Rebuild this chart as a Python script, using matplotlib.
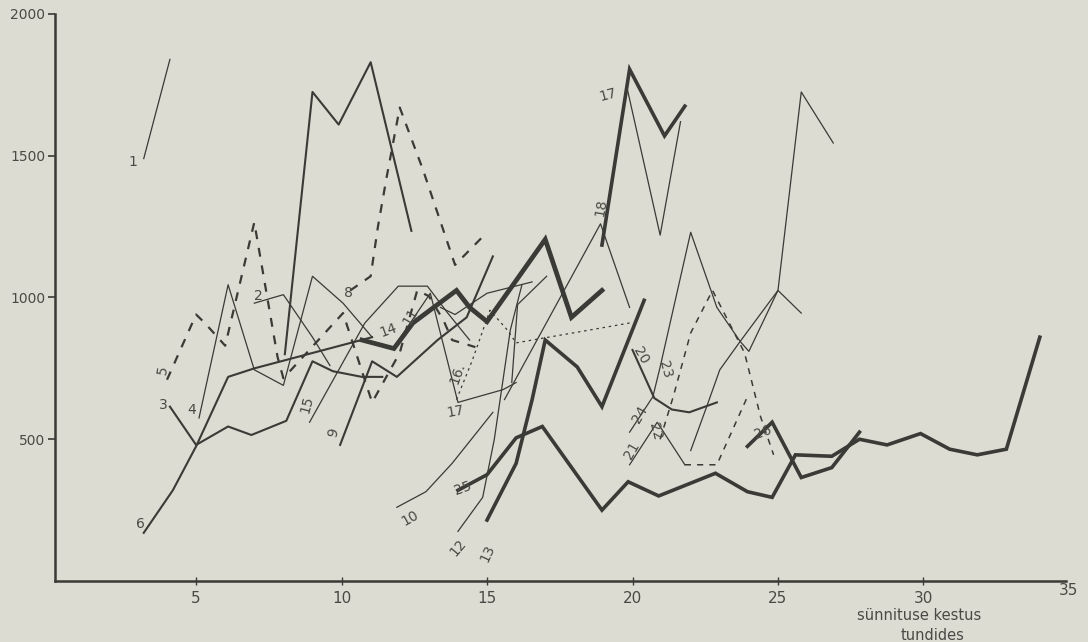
import matplotlib
matplotlib.use("Agg")
import matplotlib.pyplot as plt

# ---- data (hours, ml) ----
s1_h = [3.2, 4.1];  s1_ml = [1490, 1840]
s2_h = [7.0, 8.0, 9.0, 9.6];  s2_ml = [980, 1010, 860, 760]
s3_h = [4.1, 5.0, 6.1, 6.9, 8.1, 9.0, 9.7, 10.7, 11.4]
s3_ml = [615, 480, 545, 515, 565, 775, 740, 720, 720]
s4_h = [5.1, 6.1, 7.0, 8.0, 9.0, 10.05, 11.05]
s4_ml = [575, 1045, 745, 690, 1075, 980, 860]
s5_h = [4.0, 5.0, 5.3, 6.0, 7.0, 7.8, 8.0, 10.05, 10.7, 11.05, 12.0, 12.6, 13.0, 13.5, 13.8, 14.6]
s5_ml = [710, 940, 910, 830, 1265, 790, 715, 945, 740, 630, 805, 1025, 1005, 920, 850, 825]
s6_h = [3.2, 4.2, 5.0, 6.1, 7.0, 11.05];  s6_ml = [170, 320, 475, 720, 750, 860]
s7_h = [8.05, 9.0, 9.9, 11.0, 12.4];  s7_ml = [800, 1725, 1610, 1830, 1235]
s8_h = [10.3, 11.0, 11.25, 11.55, 12.0, 12.8, 13.9, 15.0]
s8_ml = [1025, 1075, 1250, 1425, 1670, 1450, 1115, 1230]
s9_h = [9.95, 11.05, 11.9, 13.3, 14.3, 15.2];  s9_ml = [480, 775, 720, 850, 930, 1145]
s10_h = [11.9, 12.9, 13.8, 15.2];  s10_ml = [260, 315, 415, 595]
s11_h = [11.9, 13.05, 14.0, 15.55, 16.0];  s11_ml = [840, 1015, 630, 675, 700]
s12_h = [14.0, 14.85, 15.25, 15.8, 16.2];  s12_ml = [175, 295, 500, 885, 1045]
s13_h = [15.0, 16.0, 16.55, 17.0, 18.1, 18.95, 20.4];  s13_ml = [215, 415, 640, 850, 755, 615, 990]
s14_h = [10.7, 11.8, 12.45, 13.95, 14.4, 15.0, 17.0, 17.9, 18.95]
s14_ml = [850, 820, 910, 1025, 965, 915, 1205, 930, 1025]
s15_h = [8.9, 10.8, 11.95, 12.95, 13.65, 14.4];  s15_ml = [560, 910, 1040, 1040, 945, 850]
s16_h = [13.95, 14.5, 15.1, 15.7, 16.0, 19.9];  s16_ml = [640, 780, 955, 885, 840, 910]
s17_h = [18.95, 19.9, 21.1, 21.8];  s17_ml = [1185, 1805, 1570, 1675]
s17b_h = [19.8, 20.95, 21.65];  s17b_ml = [1745, 1220, 1620]
s18_h = [15.6, 18.9, 19.9];  s18_ml = [640, 1260, 965]
s19_h = [15.85, 16.05, 17.05];  s19_ml = [700, 975, 1075]
s19b_h = [13.4, 13.9, 15.0, 16.55];  s19b_ml = [965, 940, 1015, 1055]
s20_h = [20.0, 20.75, 21.35, 21.95, 22.9];  s20_ml = [815, 645, 605, 595, 630]
s21_h = [19.9, 20.85, 21.8];  s21_ml = [410, 560, 410]
s22_h = [21.8, 22.9, 23.95];  s22_ml = [410, 410, 650]
s23_h = [20.95, 21.4, 22.0, 22.75, 23.45, 23.85, 24.4, 24.85]
s23_ml = [500, 650, 875, 1025, 885, 805, 580, 445]
s24_h = [19.9, 20.7, 20.95, 22.0, 22.9, 23.7, 24.0, 25.0, 25.8, 26.9]
s24_ml = [525, 650, 755, 1230, 965, 845, 810, 1025, 1725, 1545]
s24b_h = [22.0, 22.55, 23.0, 23.7, 25.0, 25.8];  s24b_ml = [460, 615, 745, 845, 1025, 945]
s25_h = [14.0, 15.0, 16.0, 16.9, 18.95, 19.85, 20.9, 22.85, 23.95, 24.8, 25.6, 26.85,
         27.8, 28.75, 29.9, 30.9, 31.85, 32.85, 34.0]
s25_ml = [320, 375, 505, 545, 250, 350, 300, 380, 315, 295, 445, 440,
          500, 480, 520, 465, 445, 465, 860]
s26_h = [23.95, 24.8, 25.8, 26.85, 27.8];  s26_ml = [475, 560, 365, 400, 525]

labels = ["1", "2", "3", "4", "5", "6", "8", "9", "10", "11", "12", "13", "14", "15",
          "16.", "17", "17", "18", "20", "21", "22", "23", "24", "25", "26"]
label_h = [2.84, 7.13, 3.87, 4.86, 3.87, 3.08, 10.22, 9.71, 12.35, 12.35, 14.0, 15.03, 11.6, 8.81,
           13.97, 13.93, 19.16, 18.92, 20.29, 19.98, 20.77, 21.12, 20.26, 14.18, 24.48]
label_ml = [1479, 1006, 621, 604, 745, 201, 1017, 522, 222, 935, 116, 99, 886, 621,
            734, 597, 1716, 1317, 794, 462, 526, 745, 586, 328, 526]
label_rot = [0, 0, 0, 0, 80, 0, 0, 75, 30, 60, 50, 65, 20, 75,
             70, 10, 15, 80, -60, 60, -75, -75, 60, 20, 20]

y_ticks = [500, 1000, 1500, 2000]
x_ticks = [5, 10, 15, 20, 25, 30, 35]

BG = "#dcdcd3"
INK = "#3a3a36"
TXT = "#4a4a45"

fig = plt.figure(figsize=(10.88, 6.42), dpi=100, facecolor=BG)
ax = fig.add_axes([55 / 1088, 61 / 642, (1066 - 55) / 1088, 567 / 642])
ax.set_facecolor(BG)

solid_thin = dict(color=INK, lw=0.9)
solid_med = dict(color=INK, lw=1.5)
thick = dict(color=INK, lw=2.6, solid_joinstyle="miter")
very_thick = dict(color=INK, lw=3.4, solid_joinstyle="miter")
dash_thick = dict(color=INK, lw=1.6, ls=(0, (4, 4)))
dash_thin = dict(color=INK, lw=1.1, ls=(0, (4, 4)))
dot_thin = dict(color=INK, lw=0.9, ls=(0, (2, 3)))

series = [
    (s1_h, s1_ml, solid_thin), (s2_h, s2_ml, solid_thin), (s3_h, s3_ml, solid_med),
    (s4_h, s4_ml, solid_thin), (s5_h, s5_ml, dash_thick), (s6_h, s6_ml, solid_med),
    (s7_h, s7_ml, solid_med), (s8_h, s8_ml, dash_thick), (s9_h, s9_ml, solid_med),
    (s10_h, s10_ml, solid_thin), (s11_h, s11_ml, solid_thin), (s12_h, s12_ml, solid_thin),
    (s13_h, s13_ml, thick), (s14_h, s14_ml, very_thick), (s15_h, s15_ml, solid_thin),
    (s16_h, s16_ml, dot_thin), (s17_h, s17_ml, thick), (s17b_h, s17b_ml, solid_thin),
    (s18_h, s18_ml, solid_thin), (s19_h, s19_ml, solid_thin), (s19b_h, s19b_ml, solid_thin),
    (s20_h, s20_ml, solid_med), (s21_h, s21_ml, solid_thin), (s22_h, s22_ml, dash_thin),
    (s23_h, s23_ml, dash_thin), (s24_h, s24_ml, solid_thin), (s24b_h, s24b_ml, solid_thin),
    (s25_h, s25_ml, thick), (s26_h, s26_ml, thick),
]
for xs, ys, st in series:
    ax.plot(xs, ys, **st)

for t, x, y, r in zip(labels, label_h, label_ml, label_rot):
    ax.text(x, y, t, fontsize=10, color=TXT, rotation=r,
            ha="center", va="center", family="DejaVu Sans")

ax.set_xlim(0.15, 34.9)
ax.set_ylim(0, 2000)
for s in ["top", "right"]:
    ax.spines[s].set_visible(False)
for s in ["left", "bottom"]:
    ax.spines[s].set_color(INK)
    ax.spines[s].set_linewidth(1.8)

ax.set_yticks(y_ticks)
ax.set_yticklabels([str(v) for v in y_ticks])
ax.set_xticks(x_ticks[:-1])
ax.set_xticklabels([str(v) for v in x_ticks[:-1]])
ax.text(x_ticks[-1], -35, str(x_ticks[-1]), ha="center", va="center", fontsize=11,
        color=TXT, clip_on=False)
ax.tick_params(axis="y", direction="out", length=5, width=1.2, colors=INK,
               labelcolor=TXT, labelsize=10, pad=2)
ax.tick_params(axis="x", direction="inout", length=6, width=1.0, colors=INK,
               labelcolor=TXT, labelsize=11, pad=4)

ax.text(29.85, -122, "sünnituse kestus", ha="center", va="center",
        fontsize=10.5, color=TXT, clip_on=False)
ax.text(30.3, -193, "tundides", ha="center", va="center",
        fontsize=10.5, color=TXT, clip_on=False)

fig.savefig("out.png", dpi=100, facecolor=BG)
